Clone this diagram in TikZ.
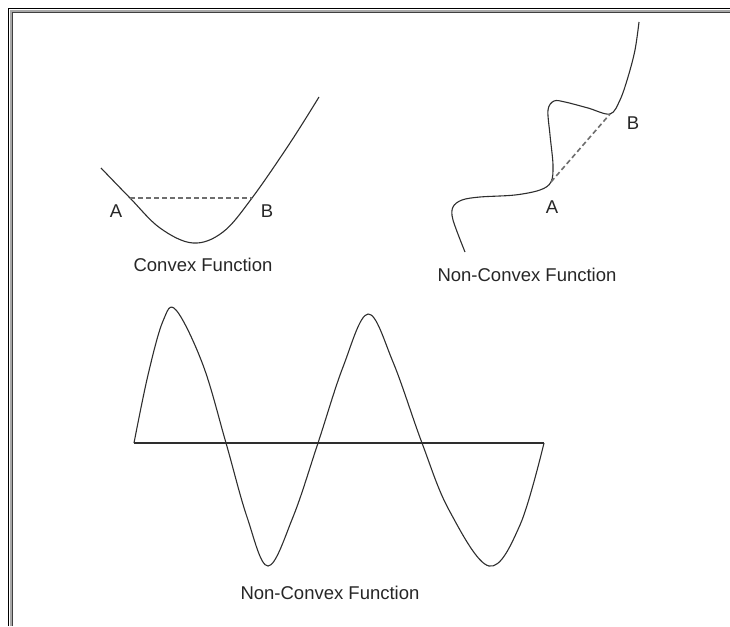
\documentclass[tikz,border=0pt]{standalone}
\usepackage{fontspec}
\setmainfont{Liberation Sans}
\usetikzlibrary{positioning}
\definecolor{ccurve}{HTML}{2E2E2E}
\definecolor{cdash}{HTML}{6E6E6E}
\definecolor{cframe}{HTML}{A8A8A8}
\tikzset{
  every picture/.style={x=1pt, y=-1pt},
  curve/.style={draw=ccurve, line width=1.1pt, line join=round},
  chord/.style={draw=cdash, line width=1.6pt, dash pattern=on 5pt off 3pt},
  note/.style={font=\fontsize{18.5}{22}\selectfont, text=black!85, inner sep=0pt},
}

\begin{document}
\begin{tikzpicture}
  \useasboundingbox (0,0) rectangle (730,626);
  % window frame
  \draw[black, line width=1.2pt] (8.6,626) -- (8.6,8.2) -- (730,8.2);
  \draw[cframe, line width=2pt] (11,626) -- (11,10.6) -- (730,10.6);
  \draw[black!75, line width=0.9pt] (12.6,626) -- (12.6,12.2) -- (730,12.2);
  % top left: convex function
  \coordinate (cA) at (130,198);
  \coordinate (cB) at (252,198);
  \draw[curve] plot[smooth, tension=0.6] coordinates {(101,168) (cA) (160,228) (193,243) (223,232) (cB) (290,143) (319,97)};
  \draw[chord] (cA) -- (cB);
  \node[note] (cAl) at (116,211) {A};
  \node[note] (cBl) at (267,211) {B};
  \node[note] (cname) at (203,265) {Convex Function};
  % top right: non-convex function
  \coordinate (nA) at (551,182);
  \coordinate (nB) at (610,114);
  \draw[curve] plot[smooth, tension=0.55] coordinates {(465,252) (453,220) (453,207) (462,200) (480,197) (515,195) (540,190) (nA) (553,165) (550,135) (548,110) (554,101) (565,102) (588,108) (nB) (620,100) (628,77) (635,50) (639,22)};
  \draw[chord] (nA) -- (nB);
  \node[note] (nAl) at (552,207) {A};
  \node[note] (nBl) at (633,123) {B};
  \node[note] (nname) at (527,275) {Non-Convex Function};
  % bottom: wave over its axis
  \coordinate (o) at (134,443);
  \coordinate (e) at (544,443);
  \draw[curve] (o) -- (e);
  \draw[curve] plot[smooth, tension=0.6] coordinates {(o) (148,375) (163,321) (176,310) (203,365) (226,443) (247,517) (268,566) (293,517) (318,443) (343,367) (368,314) (393,362) (422,443) (449,510) (489,566) (520,525) (e)};
  \node[note] (wname) at (330,593) {Non-Convex Function};
\end{tikzpicture}
\end{document}
